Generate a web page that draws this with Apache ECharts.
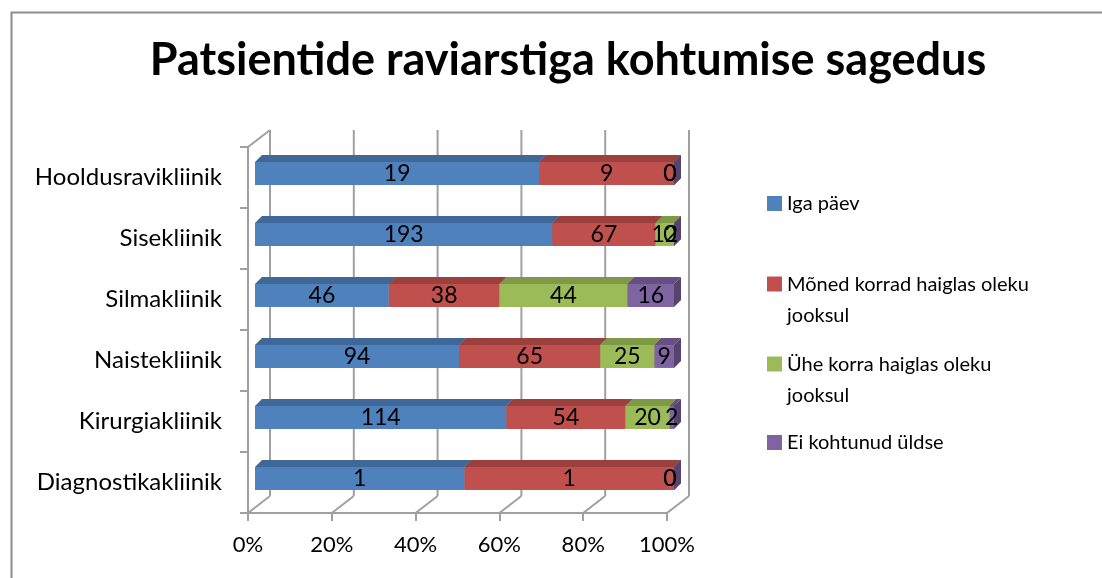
<!DOCTYPE html>
<html>
<head>
<meta charset="utf-8">
<script src="https://cdn.jsdelivr.net/npm/echarts@6/dist/echarts.min.js"></script>
<style>
  html, body { margin: 0; padding: 0; background: #fff; }
  #chart { width: 1102px; height: 578px; }
</style>
</head>
<body>
<div id="chart"></div>
<script>
// data
var categories = ['Hooldusravikliinik', 'Sisekliinik', 'Silmakliinik', 'Naistekliinik', 'Kirurgiakliinik', 'Diagnostikakliinik']
var igaPaev = [19, 193, 46, 94, 114, 1]
var monedKorrad = [9, 67, 38, 65, 54, 1]
var yheKorra = [0, 12, 44, 25, 20, 0]
var eiKohtunud = [0, 0, 16, 9, 2, 0]
var seriesNames = ['Iga päev', 'Mõned korrad haiglas oleku\njooksul', 'Ühe korra haiglas oleku\njooksul', 'Ei kohtunud üldse']
var xTicks = [0, 20, 40, 60, 80, 100]

var FONT = 'Lato'
var colors = ['#4F81BD', '#C0504D', '#9BBB59', '#8064A2']
var topColors = ['#3F6898', '#9C403E', '#7E9A47', '#664F83']
var sideColors = ['#345682', '#853634', '#6A823B', '#56436F']

var allSeries = [igaPaev, monedKorrad, yheKorra, eiKohtunud]
var totals = categories.map(function(c, i) {
  return allSeries.reduce(function(s, arr) { return s + arr[i] }, 0)
})

// [startPct, endPct, categoryIndex, rawValue]
function buildData(si) {
  return categories.map(function(c, i) {
    var before = 0
    for (var k = 0; k < si; k++) before += allSeries[k][i]
    var start = before / totals[i] * 100
    var end = (before + allSeries[si][i]) / totals[i] * 100
    return [start, end, i, allSeries[si][i]]
  })
}

function renderBar(si) {
  return function(params, api) {
    var c = api.value(2)
    var p0 = api.coord([api.value(0), c])
    var p1 = api.coord([api.value(1), c])
    var h = api.size([0, 1])[1] * 0.375
    var d = 7
    var x0 = p0[0] + 7
    var x1 = p1[0] + 7
    var yc = p0[1] - 4
    var top = yc - h / 2
    var labelX = (x0 + x1) / 2
    if (x1 - x0 < 1) labelX = x0 - 4
    return {
      type: 'group',
      children: [
        {
          type: 'rect',
          shape: { x: x0, y: top, width: x1 - x0, height: h },
          style: { fill: colors[si] }
        },
        {
          type: 'polygon',
          shape: { points: [[x0, top], [x0 + d, top - d], [x1 + d, top - d], [x1, top]] },
          style: { fill: topColors[si] }
        },
        {
          type: 'polygon',
          shape: { points: [[x1, top], [x1 + d, top - d], [x1 + d, top - d + h], [x1, top + h]] },
          style: { fill: sideColors[si] }
        },
        {
          type: 'text',
          z2: 100,
          style: {
            x: labelX,
            y: yc,
            text: String(api.value(3)),
            align: 'center',
            verticalAlign: 'middle',
            fill: '#000',
            font: '23px ' + FONT
          }
        }
      ]
    }
  }
}

// back wall / floor lines of the 3D frame
function renderFrame(params, api) {
  var cs = params.coordSys
  var dx = 22
  var dy = -17
  var lineStyle = { stroke: '#A0A0A0', lineWidth: 2 }
  var children = []
  var yb = cs.y + cs.height
  children.push({ type: 'line', shape: { x1: cs.x, y1: cs.y, x2: cs.x + dx, y2: cs.y + dy }, style: lineStyle })
  xTicks.forEach(function(v) {
    var x = api.coord([v, 0])[0]
    children.push({ type: 'line', shape: { x1: x, y1: yb, x2: x + dx, y2: yb + dy }, style: lineStyle })
    children.push({ type: 'line', shape: { x1: x + dx, y1: yb + dy, x2: x + dx, y2: cs.y + dy }, style: lineStyle })
  })
  return { type: 'group', children: children }
}

var series = [{
  type: 'custom',
  name: 'frame',
  silent: true,
  z: 1,
  renderItem: renderFrame,
  encode: { x: 0, y: 1 },
  data: [[0, 0]]
}]
seriesNames.forEach(function(name, si) {
  series.push({
    type: 'custom',
    name: name,
    z: 2,
    itemStyle: { color: colors[si] },
    renderItem: renderBar(si),
    encode: { x: [0, 1], y: 2 },
    data: buildData(si)
  })
})

var squareIcon = 'rect'
var tallIcon = 'path://M0,0H15V15H0Z M0,47L0.01,47'
var legendTops = [188, 269, 349, 427]
var legends = seriesNames.map(function(name, si) {
  var twoLines = name.indexOf('\n') >= 0
  return {
    data: [{ name: name, icon: twoLines ? tallIcon : squareIcon }],
    left: 767,
    top: legendTops[si],
    padding: 0,
    orient: 'vertical',
    itemWidth: 15,
    itemHeight: twoLines ? 47 : 15,
    selectedMode: false,
    itemStyle: { borderWidth: 0 },
    textStyle: { fontFamily: FONT, fontSize: 20, lineHeight: 31, color: '#000' }
  }
})

var chart = echarts.init(document.getElementById('chart'))
chart.setOption({
  animation: false,
  title: {
    text: 'Patsientide raviarstiga kohtumise sagedus',
    left: 563,
    top: 33,
    textAlign: 'center',
    textStyle: { fontFamily: FONT, fontWeight: 'bold', fontSize: 45, color: '#000' }
  },
  graphic: [{
    type: 'rect',
    left: 9,
    top: 10,
    shape: { width: 1200, height: 700 },
    style: { fill: 'none', stroke: '#8C8C8C', lineWidth: 2 },
    silent: true
  }],
  legend: legends,
  grid: { left: 248, right: 435, top: 147, bottom: 65 },
  xAxis: {
    type: 'value',
    min: 0,
    max: 100,
    interval: 20,
    splitLine: { show: false },
    axisLine: { show: true, lineStyle: { color: '#A0A0A0', width: 2 } },
    axisTick: { show: true, length: 8, lineStyle: { color: '#A0A0A0', width: 2 } },
    axisLabel: { formatter: '{value}%', fontFamily: FONT, fontSize: 22, color: '#000', margin: 21 }
  },
  yAxis: {
    type: 'category',
    data: categories,
    inverse: true,
    axisLine: { show: true, lineStyle: { color: '#A0A0A0', width: 2 } },
    axisTick: { show: true, length: 8, lineStyle: { color: '#A0A0A0', width: 2 } },
    axisLabel: { fontFamily: FONT, fontSize: 24, color: '#000', margin: 26 }
  },
  series: series
})
</script>
</body>
</html>
